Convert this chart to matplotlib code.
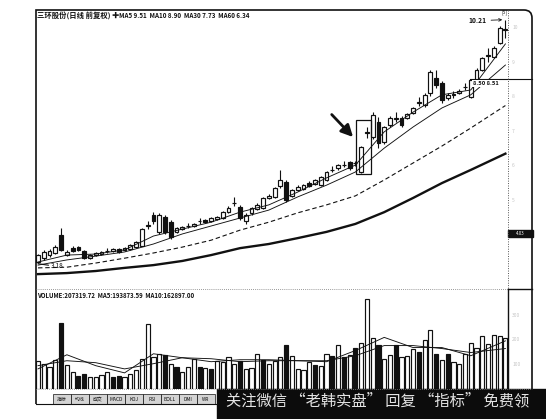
import matplotlib
matplotlib.use("Agg")
import matplotlib.pyplot as plt
from matplotlib.patches import Rectangle, PathPatch
from matplotlib.path import Path
import numpy as np

plt.rcParams["font.family"] = ["Noto Sans CJK SC", "DejaVu Sans"]

W, H = 546, 419
INK = "#111111"

TITLE = "三环股份(日线 前复权)"
MA_TEXT = "MA5 9.51  MA10 8.90  MA30 7.73  MA60 6.34"
VOL_TEXT = "VOLUME:207319.72  MA5:193873.59  MA10:162897.00"
WATERMARK = "关注微信 “老韩实盘” 回复 “指标” 免费领"
TABS = ["指标", "均线", "成交", "MACD", "KDJ", "RSI", "BOLL", "DMI", "WR"]

# daily candles, oldest first (prices)
opens = [3.21, 3.32, 3.40, 3.47, 3.98, 3.42, 3.62, 3.64, 3.52, 3.33,
         3.40, 3.44, 3.52, 3.52, 3.58, 3.56, 3.58, 3.64, 3.68, 4.25,
         4.57, 4.08, 4.51, 4.36, 4.08, 4.16, 4.24, 4.25, 4.38, 4.42,
         4.40, 4.45, 4.48, 4.66, 4.90, 4.80, 4.40, 4.62, 4.73, 4.77,
         5.05, 5.09, 5.40, 5.52, 5.12, 5.29, 5.32, 5.50, 5.46, 5.43,
         5.58, 5.86, 5.92, 6.00, 6.10, 6.06, 5.81, 6.93, 6.82, 7.26,
         6.68, 7.17, 7.35, 7.37, 7.37, 7.52, 7.81, 7.75, 8.09, 8.53,
         8.38, 7.95, 8.03, 8.09, 8.26, 7.98, 8.47, 8.76, 9.17, 9.14,
         9.54, 9.90]
closes = [3.41, 3.50, 3.52, 3.64, 3.56, 3.50, 3.53, 3.57, 3.33, 3.42,
          3.46, 3.50, 3.53, 3.58, 3.50, 3.60, 3.70, 3.78, 4.16, 4.27,
          4.38, 4.57, 4.08, 3.93, 4.19, 4.22, 4.25, 4.30, 4.39, 4.36,
          4.48, 4.50, 4.65, 4.77, 4.92, 4.48, 4.57, 4.77, 4.86, 5.06,
          5.12, 5.35, 5.58, 5.00, 5.29, 5.38, 5.43, 5.41, 5.58, 5.66,
          5.81, 5.88, 6.01, 6.02, 5.93, 6.08, 6.53, 6.96, 7.46, 6.65,
          7.11, 7.37, 7.37, 7.17, 7.49, 7.66, 7.83, 8.04, 8.70, 8.33,
          7.89, 8.04, 8.05, 8.15, 8.27, 8.47, 8.76, 9.11, 9.20, 9.40,
          9.97, 9.95]
highs = [3.45, 3.55, 3.58, 3.70, 4.18, 3.55, 3.66, 3.68, 3.55, 3.45,
         3.50, 3.54, 3.60, 3.62, 3.62, 3.63, 3.73, 3.82, 4.20, 4.38,
         4.66, 4.62, 4.57, 4.42, 4.22, 4.26, 4.33, 4.34, 4.48, 4.46,
         4.52, 4.54, 4.68, 4.82, 5.10, 4.86, 4.62, 4.80, 4.90, 5.10,
         5.16, 5.38, 5.87, 5.58, 5.33, 5.42, 5.47, 5.54, 5.62, 5.70,
         5.85, 5.98, 6.05, 6.12, 6.14, 6.14, 6.56, 7.10, 7.53, 7.40,
         7.15, 7.42, 7.54, 7.42, 7.52, 7.70, 7.98, 8.10, 8.76, 8.76,
         8.45, 8.08, 8.15, 8.20, 8.38, 8.50, 8.80, 9.14, 9.40, 9.44,
         10.02, 10.21]
lows = [3.18, 3.28, 3.36, 3.44, 3.52, 3.38, 3.50, 3.54, 3.30, 3.30,
        3.37, 3.41, 3.48, 3.50, 3.47, 3.53, 3.55, 3.60, 3.66, 4.15,
        4.30, 4.02, 4.02, 3.88, 4.04, 4.12, 4.18, 4.22, 4.32, 4.33,
        4.37, 4.42, 4.45, 4.62, 4.84, 4.43, 4.30, 4.58, 4.70, 4.74,
        5.02, 5.05, 5.36, 4.95, 5.08, 5.25, 5.28, 5.38, 5.42, 5.40,
        5.55, 5.80, 5.88, 5.95, 5.88, 5.98, 5.78, 6.80, 6.75, 6.50,
        6.62, 7.12, 7.26, 7.12, 7.33, 7.48, 7.72, 7.70, 8.02, 8.25,
        7.80, 7.90, 7.95, 8.05, 8.18, 7.95, 8.44, 8.72, 9.00, 9.10,
        9.50, 9.68]

# volume in thousands of shares, and the days whose bar is filled
volumes = [114, 102, 90, 118, 265, 98, 69, 53, 61, 49,
           49, 57, 69, 49, 53, 49, 61, 77, 122, 260,
           130, 142, 138, 102, 90, 69, 90, 122, 90, 85,
           81, 114, 110, 130, 102, 114, 81, 85, 142, 118,
           102, 114, 130, 179, 134, 81, 77, 110, 98, 94,
           142, 134, 179, 130, 138, 167, 187, 362, 204, 179,
           122, 138, 179, 130, 134, 163, 151, 199, 236, 142,
           118, 142, 110, 102, 142, 187, 167, 212, 183, 216,
           212, 207.3]
vol_down = [4, 7, 8, 13, 14, 22, 24, 28, 30, 35, 39, 43, 48, 51, 53, 55,
            59, 62, 66, 69, 71]

# moving averages read at every 5th day
ma_idx = [0, 5, 10, 15, 20, 25, 30, 35, 40, 45, 50, 55, 60, 65, 70, 75, 81]
ma5 = [3.21, 3.41, 3.44, 3.56, 3.96, 4.16, 4.36, 4.65, 4.86, 5.23,
       5.64, 6.01, 6.97, 7.54, 8.04, 8.18, 9.51]
ma10 = [3.12, 3.27, 3.38, 3.50, 3.73, 4.02, 4.25, 4.48, 4.71, 5.09,
        5.43, 5.81, 6.50, 7.11, 7.66, 8.04, 8.90]
ma30 = [3.04, 3.06, 3.18, 3.32, 3.47, 3.64, 3.84, 4.13, 4.36, 4.63,
        4.86, 5.12, 5.58, 6.07, 6.56, 7.08, 7.73]
ma60 = [2.86, 2.89, 2.95, 3.04, 3.12, 3.24, 3.41, 3.61, 3.73, 3.90,
        4.08, 4.31, 4.65, 5.06, 5.49, 5.87, 6.34]
vol_ma5 = [81, 138, 94, 65, 142, 126, 110, 118, 118, 114,
           110, 155, 208, 167, 167, 134, 194]
vol_ma10 = [94, 114, 106, 81, 102, 126, 122, 110, 114, 114,
            114, 134, 175, 175, 163, 147, 163]

HIGHLIGHT = 56      # breakout day inside the box
HIGH_LABEL = "10.21"
LOW_LABEL = "3.18"
LINE_LEVEL = 8.50
LINE_TEXT = "8.50 8.51"


def frac(x0, y0, x1, y1):
    return [x0 / W, 1 - y1 / H, (x1 - x0) / W, (y1 - y0) / H]


opens, closes = np.array(opens), np.array(closes)
highs, lows = np.array(highs), np.array(lows)
days = np.arange(len(opens))
x_range = (-0.35, 81.45)

fig = plt.figure(figsize=(W / 100, H / 100), dpi=100)
fig.patch.set_facecolor("white")

ax = fig.add_axes(frac(36, 10, 508, 289))
axv = fig.add_axes(frac(36, 289, 508, 389))
for a in (ax, axv):
    a.set_xlim(*x_range)
    a.set_xticks([])
    for s in a.spines.values():
        s.set_visible(False)
    a.yaxis.tick_right()
    a.tick_params(axis="y", length=0, labelsize=3.6, labelcolor="#c6c6c6", pad=3)

ax.set_ylim(2.43, 10.49)
ax.set_yticks([4, 5, 6, 7, 8, 9, 10])
axv.set_ylim(0, 403)
axv.set_yticks([100, 200, 300])

# candles
up = closes >= opens
bottoms = np.minimum(opens, closes)
heights = np.maximum(np.abs(closes - opens), 0.018)
ax.vlines(days, lows, highs, color=INK, lw=0.8, zorder=2)
ax.bar(days, heights, bottom=bottoms, width=0.66,
       color=np.where(up, "white", INK), edgecolor=INK, lw=0.85, zorder=3)

ax.plot(ma_idx, ma5, color=INK, lw=0.65, zorder=4)
ax.plot(ma_idx, ma10, color=INK, lw=0.65, zorder=4)
ax.plot(ma_idx, ma30, color=INK, lw=0.8, dashes=(4, 2.5), zorder=4)
ax.plot(ma_idx, ma60, color=INK, lw=1.7, zorder=4)

# highlight box and arrow
box_l, box_r = HIGHLIGHT - 0.9, HIGHLIGHT + 1.7
box_b = lows[HIGHLIGHT] - 0.03
box_t = highs[HIGHLIGHT + 1] + 0.2
ax.add_patch(Rectangle((box_l, box_b), box_r - box_l, box_t - box_b,
                       fill=False, ec=INK, lw=0.9, zorder=5))
ax.annotate("", xy=(box_l - 0.5, box_t - 0.48), xytext=(box_l - 4.2, box_t + 0.17),
            arrowprops=dict(arrowstyle="-|>,head_length=0.7,head_width=0.35",
                            lw=2.0, color=INK, shrinkA=0, shrinkB=0), zorder=6)

# high / low marks
top_day = int(np.argmax(highs))
ax.annotate(HIGH_LABEL, xy=(top_day - 0.3, highs[top_day]), xytext=(top_day - 3.2, highs[top_day] - 0.03),
            fontsize=4.8, fontweight="bold", ha="right", va="center", color=INK,
            arrowprops=dict(arrowstyle="->", lw=0.6, color=INK, shrinkA=1, shrinkB=1))
ax.text(top_day - 0.2, 10.43, "[5]", fontsize=3.6, ha="center", va="center", color=INK)
low_day = int(np.argmin(lows))
ax.annotate(LOW_LABEL, xy=(low_day, lows[low_day] - 0.02), xytext=(low_day + 2.3, lows[low_day] - 0.1),
            fontsize=4.8, ha="left", va="center", color=INK,
            arrowprops=dict(arrowstyle="-", lw=0.8, color=INK, shrinkA=0, shrinkB=0))

ax.plot([74.9, 85.6], [LINE_LEVEL, LINE_LEVEL], color=INK, lw=0.8, clip_on=False, zorder=4)
ax.text(75.3, LINE_LEVEL - 0.06, LINE_TEXT, fontsize=4.2, fontweight="bold",
        ha="left", va="top", color=INK,
        bbox=dict(boxstyle="square,pad=0.1", fc="white", ec="none"), zorder=5)

# volume
vol_colors = ["white"] * len(volumes)
for i in vol_down:
    vol_colors[i] = INK
axv.bar(days, volumes, width=0.72, color=vol_colors, edgecolor=INK, lw=0.85, zorder=2)
axv.plot(ma_idx, vol_ma5, color=INK, lw=0.65, zorder=3)
axv.plot(ma_idx, vol_ma10, color=INK, lw=0.65, zorder=3)
axv.text(0.002, 0.975, VOL_TEXT, transform=axv.transAxes, fontsize=4.4,
         fontweight="bold", ha="left", va="top", color=INK)

# titles
fig.text(37 / W, 1 - 11.5 / H, TITLE, fontsize=5.3, fontweight="bold", ha="left", va="top", color=INK)
fig.text(111 / W, 1 - 11.5 / H, "✚", fontsize=5.3, ha="left", va="top", color=INK)
fig.text(119 / W, 1 - 12 / H, MA_TEXT, fontsize=4.5, fontweight="bold", ha="left", va="top", color=INK)

# frame, separators, tabs and watermark in pixel space
ov = fig.add_axes([0, 0, 1, 1], zorder=10)
ov.set_xlim(0, W)
ov.set_ylim(H, 0)
ov.axis("off")
ov.patch.set_visible(False)

frame = Path([(36, 404), (36, 10), (524, 10), (532, 10), (532, 18), (532, 389)],
             [Path.MOVETO, Path.LINETO, Path.LINETO, Path.CURVE3, Path.CURVE3, Path.LINETO])
ov.add_patch(PathPatch(frame, fill=False, ec=INK, lw=1.2))
ov.plot([508, 508], [10, 289], color="#555555", lw=0.7, ls=(0, (1, 1.5)))
ov.plot([508, 508], [289, 389], color=INK, lw=1.0)
ov.plot([36, 508], [289, 289], color="#777777", lw=0.6, ls=(0, (1, 1.5)))
ov.plot([508, 532], [289, 289], color=INK, lw=1.0)
ov.plot([36, 532], [389, 389], color="#888888", lw=0.6, ls=(0, (1, 1.5)))

ov.add_patch(Rectangle((508, 230), 25, 7, color=INK))
ov.text(520, 233.5, "4.03", fontsize=3.2, color="white", ha="center", va="center")

tab_x = 53
for name in TABS:
    ov.add_patch(Rectangle((tab_x, 394), 18, 10, fc="#d4d4d4", ec=INK, lw=0.5))
    ov.text(tab_x + 9, 399, name, fontsize=3.5, ha="center", va="center", color=INK)
    tab_x += 18
ov.plot([36, 217], [404, 404], color=INK, lw=0.8)

ov.add_patch(Rectangle((217, 389), W - 217, H - 389, color="#0c0c0c", clip_on=False))
ov.text(226, 401, WATERMARK, fontsize=11.0, color="#e4e4e4", ha="left", va="center")

fig.savefig("out.png", dpi=100)
